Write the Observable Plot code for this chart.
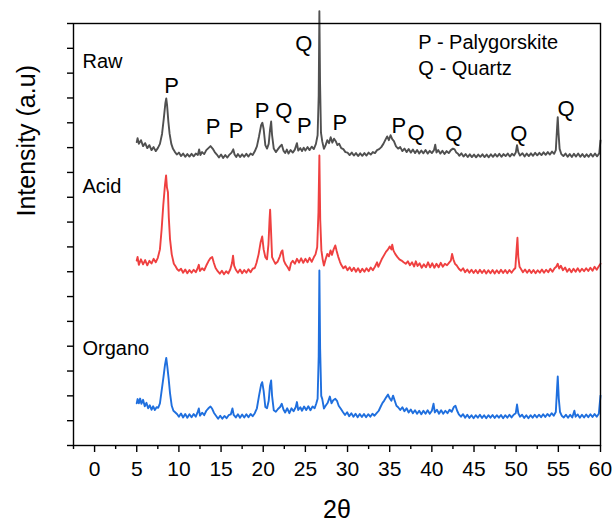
<!DOCTYPE html>
<html>
<head>
<meta charset="utf-8">
<script src="https://cdn.jsdelivr.net/npm/d3@7"></script>
<script src="https://cdn.jsdelivr.net/npm/@observablehq/plot@0.6"></script>
<style>
  html, body { margin: 0; padding: 0; background: #fff; }
  #chart svg { display: block; }
</style>
</head>
<body>
<div id="chart"></div>
<script>
// ---- Data (2θ, relative intensity above each pattern's baseline) ----
const seriesNames = ["Raw", "Acid", "Organo"];
const seriesOffsets = [11.6, 6.9, 1.1];
const seriesColors = ["#505050", "#ef4040", "#1f6fde"];

const rawPattern = [
[5.0,0.62],[5.1,0.78],[5.25,0.55],[5.5,0.7],[5.75,0.46],[6.0,0.58],[6.25,0.38],[6.5,0.5],[6.75,0.3],[7.0,0.42],[7.25,0.26],[7.5,0.38],[7.75,0.55],[8.0,0.95],[8.2,1.55],[8.4,2.2],[8.5,2.38],[8.6,2.1],[8.75,1.45],[8.9,0.95],[9.1,0.55],[9.3,0.35],[9.5,0.24],[9.75,0.12],[10.0,0.2],[10.25,0.06],[10.5,0.16],[10.75,0.03],[11.0,0.14],[11.25,0.04],[11.5,0.15],[11.75,0.05],[12.0,0.16],[12.25,0.1],[12.4,0.33],[12.55,0.1],[12.75,0.22],[13.0,0.14],[13.25,0.3],[13.5,0.38],[13.75,0.46],[14.0,0.36],[14.25,0.22],[14.5,0.12],[14.75,0.0],[15.0,0.12],[15.25,-0.02],[15.5,0.1],[15.75,0.0],[16.0,0.12],[16.25,0.2],[16.45,0.33],[16.6,0.12],[16.8,0.02],[17.0,0.14],[17.25,0.02],[17.5,0.13],[17.75,0.03],[18.0,0.15],[18.25,0.04],[18.5,0.16],[18.75,0.1],[19.0,0.25],[19.25,0.45],[19.5,0.85],[19.75,1.3],[19.9,1.4],[20.05,1.15],[20.25,0.5],[20.45,0.36],[20.65,0.55],[20.8,1.1],[20.94,1.45],[21.05,0.9],[21.25,0.36],[21.5,0.22],[21.75,0.34],[22.0,0.45],[22.2,0.52],[22.4,0.28],[22.6,0.18],[22.8,0.32],[23.0,0.16],[23.25,0.3],[23.5,0.2],[23.75,0.32],[24.0,0.58],[24.15,0.28],[24.4,0.38],[24.6,0.26],[24.8,0.4],[25.0,0.28],[25.25,0.42],[25.5,0.3],[25.75,0.44],[26.0,0.34],[26.25,0.55],[26.45,0.9],[26.58,2.5],[26.66,5.9],[26.74,3.0],[26.85,1.0],[27.0,0.65],[27.2,0.35],[27.4,0.5],[27.6,0.7],[27.8,0.58],[28.0,0.82],[28.2,0.6],[28.4,0.76],[28.6,0.66],[28.8,0.5],[29.0,0.56],[29.25,0.38],[29.5,0.34],[29.75,0.22],[30.0,0.2],[30.25,0.1],[30.5,0.2],[30.75,0.08],[31.0,0.18],[31.25,0.06],[31.5,0.17],[31.75,0.07],[32.0,0.18],[32.25,0.08],[32.5,0.2],[32.75,0.12],[33.0,0.22],[33.25,0.18],[33.5,0.3],[33.75,0.34],[34.0,0.42],[34.25,0.55],[34.5,0.72],[34.7,0.85],[34.9,0.7],[35.1,0.9],[35.3,0.74],[35.5,0.66],[35.75,0.45],[36.0,0.36],[36.25,0.42],[36.5,0.26],[36.75,0.36],[37.0,0.22],[37.25,0.34],[37.5,0.2],[37.75,0.32],[38.0,0.18],[38.25,0.3],[38.5,0.16],[38.75,0.28],[39.0,0.17],[39.25,0.3],[39.5,0.16],[39.75,0.27],[40.0,0.18],[40.25,0.3],[40.4,0.52],[40.55,0.2],[40.75,0.3],[41.0,0.16],[41.25,0.27],[41.5,0.14],[41.75,0.26],[42.0,0.18],[42.25,0.3],[42.5,0.36],[42.7,0.33],[42.9,0.2],[43.1,0.15],[43.25,0.07],[43.5,0.17],[43.75,0.04],[44.0,0.14],[44.25,0.02],[44.5,0.13],[44.75,0.02],[45.0,0.12],[45.25,0.01],[45.5,0.12],[45.75,0.03],[46.0,0.13],[46.25,0.02],[46.5,0.12],[46.75,0.01],[47.0,0.13],[47.25,0.03],[47.5,0.14],[47.75,0.04],[48.0,0.15],[48.25,0.03],[48.5,0.14],[48.75,0.06],[49.0,0.16],[49.25,0.04],[49.5,0.15],[49.75,0.08],[49.95,0.2],[50.1,0.5],[50.25,0.22],[50.45,0.08],[50.75,0.17],[51.0,0.04],[51.25,0.16],[51.5,0.06],[51.75,0.17],[52.0,0.07],[52.25,0.19],[52.5,0.09],[52.75,0.19],[53.0,0.1],[53.25,0.21],[53.5,0.11],[53.75,0.22],[54.0,0.12],[54.25,0.24],[54.5,0.15],[54.7,0.3],[54.85,1.2],[54.93,1.63],[55.02,1.0],[55.15,0.35],[55.35,0.14],[55.6,0.06],[55.85,0.16],[56.1,0.03],[56.35,0.14],[56.6,0.02],[56.85,0.15],[57.1,0.04],[57.35,0.16],[57.6,0.03],[57.85,0.14],[58.1,0.02],[58.35,0.13],[58.6,0.03],[58.85,0.15],[59.1,0.04],[59.35,0.16],[59.6,0.05],[59.85,0.17],[60.0,0.69]
];

const acidPattern = [
[5.0,0.55],[5.1,0.7],[5.25,0.38],[5.5,0.6],[5.75,0.4],[6.0,0.57],[6.25,0.36],[6.5,0.54],[6.75,0.43],[7.0,0.62],[7.25,0.48],[7.5,0.66],[7.75,1.0],[7.95,1.8],[8.15,2.8],[8.35,3.6],[8.48,3.98],[8.58,3.5],[8.7,3.3],[8.8,2.3],[8.95,1.4],[9.15,0.8],[9.4,0.42],[9.6,0.32],[9.8,0.2],[10.0,0.14],[10.25,0.22],[10.5,0.06],[10.75,0.19],[11.0,0.04],[11.25,0.17],[11.5,0.06],[11.75,0.18],[12.0,0.08],[12.2,0.22],[12.36,0.38],[12.5,0.13],[12.75,0.24],[13.0,0.16],[13.25,0.35],[13.5,0.52],[13.75,0.65],[13.95,0.69],[14.15,0.45],[14.35,0.25],[14.6,0.12],[14.85,0.02],[15.1,0.14],[15.35,0.0],[15.6,0.12],[15.85,0.03],[16.1,0.2],[16.3,0.45],[16.42,0.75],[16.55,0.35],[16.75,0.18],[17.0,0.06],[17.25,0.19],[17.5,0.04],[17.75,0.17],[18.0,0.06],[18.25,0.2],[18.5,0.08],[18.75,0.22],[19.0,0.25],[19.2,0.45],[19.45,0.8],[19.7,1.3],[19.88,1.52],[20.05,1.0],[20.25,0.69],[20.45,0.6],[20.62,1.2],[20.75,2.2],[20.82,2.6],[20.92,1.8],[21.05,0.69],[21.25,0.55],[21.45,0.42],[21.7,0.5],[21.95,0.7],[22.15,0.9],[22.28,0.96],[22.45,0.55],[22.65,0.4],[22.9,0.28],[23.1,0.16],[23.3,0.45],[23.5,0.54],[23.75,0.42],[24.0,0.62],[24.25,0.47],[24.5,0.64],[24.75,0.46],[25.0,0.62],[25.25,0.48],[25.5,0.66],[25.75,0.5],[26.0,0.68],[26.2,0.8],[26.4,1.09],[26.55,2.5],[26.66,4.78],[26.76,2.2],[26.9,0.96],[27.05,0.6],[27.2,0.35],[27.4,0.6],[27.6,0.82],[27.8,0.72],[27.98,0.96],[28.15,0.78],[28.35,1.0],[28.55,1.16],[28.7,0.95],[28.9,0.7],[29.1,0.5],[29.25,0.38],[29.5,0.24],[29.75,0.32],[30.0,0.16],[30.25,0.28],[30.5,0.13],[30.75,0.26],[31.0,0.1],[31.25,0.24],[31.5,0.08],[31.75,0.22],[32.0,0.1],[32.25,0.24],[32.5,0.12],[32.75,0.27],[33.0,0.16],[33.25,0.3],[33.5,0.48],[33.65,0.3],[33.85,0.45],[34.05,0.6],[34.3,0.75],[34.55,0.9],[34.8,1.0],[35.0,1.12],[35.2,1.0],[35.3,1.19],[35.45,0.95],[35.65,0.82],[35.9,0.7],[36.15,0.6],[36.4,0.55],[36.65,0.48],[36.9,0.42],[37.15,0.52],[37.4,0.36],[37.65,0.48],[37.9,0.31],[38.1,0.52],[38.3,0.33],[38.55,0.44],[38.8,0.26],[39.05,0.4],[39.3,0.28],[39.55,0.48],[39.8,0.28],[40.05,0.44],[40.3,0.26],[40.55,0.42],[40.8,0.28],[41.05,0.46],[41.3,0.3],[41.55,0.42],[41.8,0.36],[42.05,0.47],[42.25,0.55],[42.4,0.82],[42.55,0.6],[42.75,0.42],[42.95,0.35],[43.2,0.22],[43.45,0.14],[43.7,0.24],[43.95,0.08],[44.2,0.19],[44.45,0.06],[44.7,0.18],[44.95,0.05],[45.2,0.17],[45.45,0.04],[45.7,0.18],[45.95,0.05],[46.2,0.17],[46.45,0.03],[46.7,0.16],[46.95,0.04],[47.2,0.17],[47.45,0.03],[47.7,0.16],[47.95,0.04],[48.2,0.18],[48.45,0.05],[48.7,0.17],[48.95,0.04],[49.2,0.17],[49.45,0.06],[49.7,0.18],[49.9,0.25],[50.05,1.0],[50.15,1.47],[50.25,0.7],[50.4,0.3],[50.55,0.22],[50.8,0.08],[51.05,0.19],[51.3,0.06],[51.55,0.18],[51.8,0.05],[52.05,0.17],[52.3,0.04],[52.55,0.16],[52.8,0.06],[53.05,0.19],[53.3,0.06],[53.55,0.18],[53.8,0.08],[54.05,0.22],[54.3,0.1],[54.55,0.24],[54.75,0.3],[54.93,0.42],[55.1,0.23],[55.3,0.34],[55.55,0.16],[55.8,0.27],[56.05,0.1],[56.3,0.22],[56.55,0.08],[56.8,0.22],[57.05,0.1],[57.3,0.24],[57.55,0.1],[57.8,0.22],[58.05,0.12],[58.3,0.24],[58.55,0.13],[58.8,0.26],[59.05,0.14],[59.3,0.3],[59.55,0.18],[59.8,0.32],[60.0,0.42]
];

const organoPattern = [
[5.0,0.6],[5.1,0.77],[5.25,0.6],[5.4,0.79],[5.55,0.58],[5.75,0.74],[5.95,0.48],[6.15,0.62],[6.35,0.4],[6.55,0.52],[6.75,0.34],[6.95,0.48],[7.15,0.33],[7.35,0.44],[7.55,0.42],[7.75,0.6],[7.95,1.1],[8.15,1.6],[8.35,2.15],[8.5,2.43],[8.62,2.1],[8.78,1.6],[8.95,1.0],[9.15,0.5],[9.35,0.3],[9.55,0.24],[9.8,0.16],[10.0,0.06],[10.25,0.19],[10.5,0.03],[10.75,0.17],[11.0,0.02],[11.25,0.16],[11.5,0.04],[11.75,0.17],[12.0,0.06],[12.2,0.22],[12.36,0.39],[12.5,0.1],[12.75,0.22],[13.0,0.12],[13.25,0.3],[13.5,0.4],[13.75,0.47],[13.95,0.38],[14.15,0.22],[14.4,0.1],[14.65,-0.02],[14.9,0.1],[15.15,-0.02],[15.4,0.09],[15.65,0.0],[15.9,0.12],[16.15,0.15],[16.35,0.39],[16.5,0.13],[16.75,0.03],[17.0,0.16],[17.25,0.02],[17.5,0.15],[17.75,0.03],[18.0,0.16],[18.25,0.04],[18.5,0.17],[18.75,0.08],[19.0,0.2],[19.25,0.4],[19.5,0.9],[19.75,1.35],[19.88,1.45],[20.05,1.1],[20.25,0.45],[20.45,0.4],[20.65,0.7],[20.8,1.3],[20.94,1.52],[21.05,0.9],[21.25,0.32],[21.5,0.26],[21.75,0.37],[22.0,0.45],[22.2,0.58],[22.4,0.35],[22.6,0.23],[22.85,0.4],[23.1,0.2],[23.35,0.4],[23.6,0.28],[23.85,0.44],[24.0,0.65],[24.15,0.33],[24.4,0.44],[24.6,0.3],[24.85,0.47],[25.1,0.33],[25.35,0.48],[25.6,0.32],[25.85,0.47],[26.1,0.4],[26.3,0.6],[26.45,0.78],[26.58,2.5],[26.66,5.95],[26.75,2.8],[26.88,0.9],[27.0,0.78],[27.2,0.39],[27.4,0.5],[27.65,0.62],[27.9,0.87],[28.1,0.6],[28.3,0.72],[28.55,0.78],[28.75,0.7],[28.95,0.5],[29.2,0.38],[29.45,0.25],[29.7,0.13],[29.95,0.24],[30.2,0.08],[30.45,0.2],[30.7,0.06],[30.95,0.18],[31.2,0.04],[31.45,0.17],[31.7,0.05],[31.95,0.17],[32.2,0.04],[32.45,0.16],[32.7,0.06],[32.95,0.18],[33.2,0.1],[33.45,0.2],[33.7,0.3],[33.95,0.48],[34.15,0.62],[34.35,0.71],[34.6,0.85],[34.8,0.95],[35.0,0.8],[35.2,0.7],[35.4,0.91],[35.6,0.7],[35.8,0.5],[36.0,0.44],[36.25,0.33],[36.5,0.44],[36.75,0.28],[37.0,0.4],[37.25,0.23],[37.5,0.35],[37.75,0.2],[38.0,0.32],[38.25,0.18],[38.5,0.3],[38.75,0.16],[39.0,0.3],[39.25,0.18],[39.5,0.32],[39.75,0.18],[40.0,0.3],[40.2,0.58],[40.35,0.23],[40.6,0.34],[40.85,0.18],[41.1,0.32],[41.35,0.18],[41.6,0.3],[41.85,0.2],[42.1,0.34],[42.35,0.26],[42.6,0.45],[42.8,0.5],[43.0,0.3],[43.2,0.15],[43.45,0.06],[43.7,0.16],[43.95,0.02],[44.2,0.14],[44.45,0.01],[44.7,0.12],[44.95,0.0],[45.2,0.12],[45.45,0.02],[45.7,0.14],[45.95,0.01],[46.2,0.12],[46.45,0.0],[46.7,0.12],[46.95,0.02],[47.2,0.13],[47.45,0.01],[47.7,0.12],[47.95,0.02],[48.2,0.13],[48.45,0.0],[48.7,0.12],[48.95,0.02],[49.2,0.14],[49.45,0.03],[49.7,0.14],[49.95,0.2],[50.1,0.55],[50.25,0.2],[50.45,0.06],[50.7,0.14],[50.95,0.01],[51.2,0.12],[51.45,0.0],[51.7,0.12],[51.95,0.02],[52.2,0.14],[52.45,0.03],[52.7,0.14],[52.95,0.04],[53.2,0.16],[53.45,0.05],[53.7,0.17],[53.95,0.08],[54.2,0.2],[54.45,0.1],[54.7,0.25],[54.85,1.2],[54.93,1.68],[55.05,0.8],[55.2,0.25],[55.4,0.1],[55.65,0.03],[55.9,0.14],[56.15,0.02],[56.4,0.14],[56.65,0.03],[56.9,0.3],[57.05,0.06],[57.3,0.15],[57.55,0.02],[57.8,0.14],[58.05,0.03],[58.3,0.15],[58.55,0.04],[58.8,0.16],[59.05,0.05],[59.3,0.17],[59.55,0.06],[59.8,0.18],[60.0,0.91]
];

// Peak annotations (letter, 2θ position, height in axis units)
const peakLetters = ["P","P","P","P","Q","P","Q","P","P","Q","Q","Q","Q"];
const peakX =       [9.13,14.07,16.79,19.88,22.44,24.89,24.81,29.08,36.08,38.14,42.6,50.31,55.93];
const peakY =       [14.5,12.85,12.66,13.47,13.46,12.89,16.18,12.99,12.89,12.61,12.57,12.56,13.57];

// Series label positions
const labelX = -1.43;
const labelY = [15.47, 10.43, 3.9];

// Legend lines
const legendLines = ["P - Palygorskite", "Q - Quartz"];
const legendX = 38.4;
const legendY = [16.25, 15.18];

// Axis ticks
const xMajorTicks = [0,5,10,15,20,25,30,35,40,45,50,55,60];
const xMinorTicks = [-2.5,2.5,7.5,12.5,17.5,22.5,27.5,32.5,37.5,42.5,47.5,52.5,57.5];
const yTicks = [0,1,2,3,4,5,6,7,8,9,10,11,12,13,14,15,16,17];

// ---- Build tables ----
const patterns = [rawPattern, acidPattern, organoPattern];
const series = patterns.map((pat, i) =>
  pat.map(([x, y]) => ({x, y: y + seriesOffsets[i], s: seriesNames[i]}))
);
const peaks = peakLetters.map((t, i) => ({t, x: peakX[i], y: peakY[i]}));
const labels = seriesNames.map((t, i) => ({t, x: labelX, y: labelY[i]}));
const legend = legendLines.map((t, i) => ({t, x: legendX, y: legendY[i]}));

const font = "Liberation Sans, Arial, Helvetica, sans-serif";

const chart = Plot.plot({
  width: 614,
  height: 525,
  marginLeft: 73,
  marginRight: 14,
  marginTop: 23,
  marginBottom: 80,
  style: {fontFamily: font, color: "#000", background: "#fff"},
  x: {domain: [-2.5, 60], axis: null},
  y: {domain: [0, 17], axis: null},
  marks: [
    ...series.map((d, i) => Plot.line(d, {
      x: "x", y: "y", stroke: seriesColors[i], strokeWidth: 1.9, strokeLinejoin: "round"
    })),
    Plot.frame({stroke: "#000", strokeWidth: 1.4}),
    Plot.axisX({ticks: xMajorTicks, tickSize: 7, tickPadding: 9, fontSize: 21, label: null, stroke: "#000", strokeWidth: 1.4}),
    Plot.axisX({ticks: xMinorTicks, tickSize: 4, tickFormat: () => "", label: null, stroke: "#000", strokeWidth: 1.4}),
    Plot.axisY({ticks: yTicks, tickSize: 6, tickFormat: () => "", label: null, stroke: "#000", strokeWidth: 1.4}),
    Plot.text(peaks, {x: "x", y: "y", text: "t", fontSize: 22, fill: "#000"}),
    Plot.text(labels, {x: "x", y: "y", text: "t", fontSize: 20, textAnchor: "start", fill: "#000"}),
    Plot.text(legend, {x: "x", y: "y", text: "t", fontSize: 20, textAnchor: "start", fill: "#000"}),
    Plot.text(["2θ"], {frameAnchor: "bottom", dy: 72, fontSize: 25, fill: "#000"}),
    Plot.text(["Intensity (a.u)"], {frameAnchor: "left", dx: -47, dy: -18, rotate: -90, fontSize: 25, fill: "#000"})
  ]
});

document.getElementById("chart").appendChild(chart);
</script>
</body>
</html>
